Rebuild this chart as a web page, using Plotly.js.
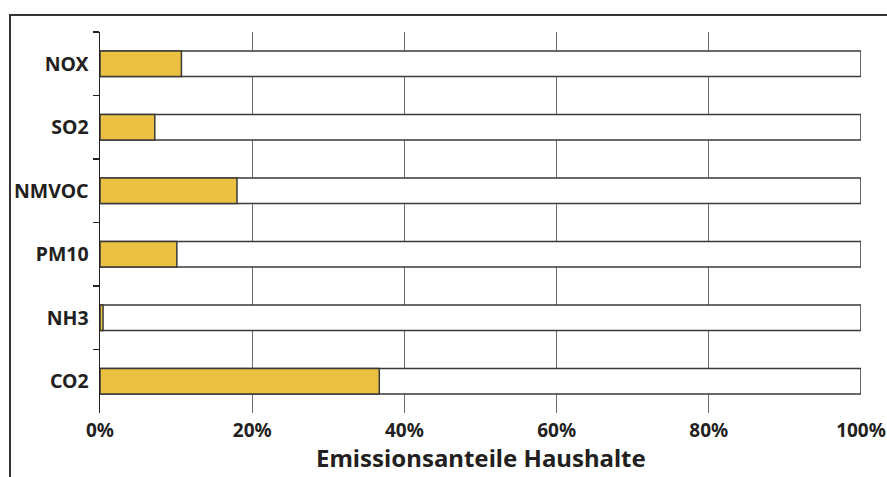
<!DOCTYPE html>
<html>
<head>
<meta charset="utf-8">
<script src="https://cdn.plot.ly/plotly-3.0.1.min.js"></script>
<style>
html,body{margin:0;padding:0;background:#fff;}
#wrap{position:relative;width:887px;height:477px;}
#frame{position:absolute;left:9px;top:14px;right:0;bottom:0;border-top:2px solid #333;border-left:2px solid #333;pointer-events:none;}
#chart{position:absolute;left:0;top:0;width:887px;height:477px;}
</style>
</head>
<body>
<div id="wrap"><div id="chart"></div><div id="frame"></div></div>
<script>
const categories = ["NOX", "SO2", "NMVOC", "PM10", "NH3", "CO2"];
const householdShare = [10.7, 7.2, 18.0, 10.1, 0.4, 36.7];
const totalShare = [100, 100, 100, 100, 100, 100];
const xTickValues = [0, 20, 40, 60, 80, 100];
const xTickLabels = ["0%", "20%", "40%", "60%", "80%", "100%"];
const xTitle = "Emissionsanteile Haushalte";

const traces = [
  {type: "bar", orientation: "h", y: categories, x: totalShare,
   marker: {color: "#ffffff", line: {color: "#3a3a3a", width: 1.5}},
   hoverinfo: "skip"},
  {type: "bar", orientation: "h", y: categories, x: householdShare,
   marker: {color: "#ebc142", line: {color: "#3a3a3a", width: 1.5}}}
];

const layout = {
  width: 887, height: 477,
  margin: {l: 100, r: 26, t: 32, b: 64},
  barmode: "overlay",
  bargap: 0.6,
  showlegend: false,
  paper_bgcolor: "#fff", plot_bgcolor: "#fff",
  font: {family: "Noto Sans, Open Sans, sans-serif", color: "#231f20"},
  xaxis: {
    range: [0, 100], tickmode: "array", tickvals: xTickValues, ticktext: xTickLabels,
    showgrid: true, gridcolor: "#6d6e71", gridwidth: 1,
    zeroline: false, showline: false, ticks: "", ticklabelstandoff: 4,
    tickfont: {size: 19, weight: "bold"}
  },
  yaxis: {
    type: "category", categoryorder: "array", categoryarray: categories,
    autorange: "reversed",
    showline: true, linecolor: "#231f20", linewidth: 1.5,
    ticks: "outside", tickson: "boundaries", ticklen: 6, tickwidth: 1.5, tickcolor: "#231f20",
    showgrid: false, zeroline: false, ticklabelstandoff: 6,
    tickfont: {size: 19.5, weight: "bold"}
  },
  annotations: [{
    text: xTitle, xref: "paper", yref: "paper", x: 0.5, y: -0.166,
    xanchor: "center", yanchor: "bottom", showarrow: false,
    font: {size: 24, weight: "bold", color: "#231f20"}
  }]
};

Plotly.newPlot("chart", traces, layout, {displayModeBar: false, staticPlot: true});
</script>
</body>
</html>
